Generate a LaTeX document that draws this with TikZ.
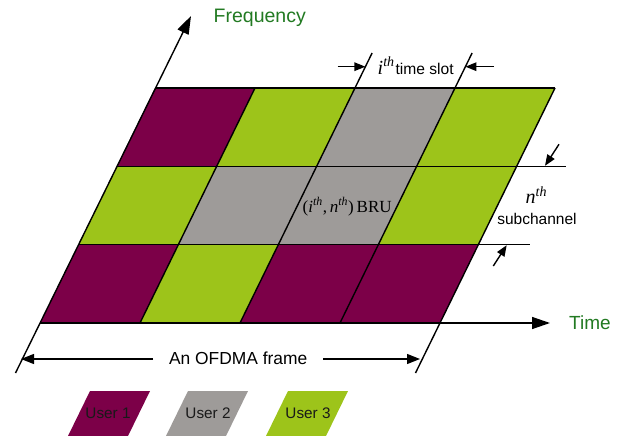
\documentclass[tikz,border=0pt]{standalone}
\usepackage{fontspec}
\setmainfont{Liberation Sans}
\newfontfamily\tnr{Liberation Serif}
\usetikzlibrary{arrows.meta}
\definecolor{upurple}{RGB}{124,0,72}
\definecolor{ugray}{RGB}{158,155,153}
\definecolor{ugreen}{RGB}{157,196,26}
\definecolor{axgreen}{RGB}{34,122,34}
\begin{document}
\begin{tikzpicture}[x=1pt, y=-1pt, line width=1.4pt,
  user1/.style={fill=upurple}, user2/.style={fill=ugray}, user3/.style={fill=ugreen},
  bigtip/.style={-{Triangle[length=18pt,width=12pt]}},
  midtip/.style={-{Triangle[length=13pt,width=10pt]}},
  smalltip/.style={-{Triangle[length=11pt,width=8.5pt]}},
  lbl/.style={inner sep=0pt, anchor=base west}]
\useasboundingbox (0,0) rectangle (622,436);
\fill[white] (0,0) rectangle (622,436);
% grid points, column then row
\coordinate (gp00) at (155,88);
\coordinate (gp10) at (255,88);
\coordinate (gp20) at (355,88);
\coordinate (gp30) at (455,88);
\coordinate (gp40) at (555,88);
\coordinate (gp01) at (116.7,166.3);
\coordinate (gp11) at (216.7,166.3);
\coordinate (gp21) at (316.7,166.3);
\coordinate (gp31) at (416.7,166.3);
\coordinate (gp41) at (516.7,166.3);
\coordinate (gp02) at (78.3,244.7);
\coordinate (gp12) at (178.3,244.7);
\coordinate (gp22) at (278.3,244.7);
\coordinate (gp32) at (378.3,244.7);
\coordinate (gp42) at (478.3,244.7);
\coordinate (gp03) at (40,323);
\coordinate (gp13) at (140,323);
\coordinate (gp23) at (240,323);
\coordinate (gp33) at (340,323);
\coordinate (gp43) at (440,323);
% free ends
\coordinate (fqlow) at (15.5,373);
\coordinate (fqtip) at (191,16);
\coordinate (tmtip) at (550,323);
\coordinate (slta) at (372.1,53);
\coordinate (sltb) at (472.1,53);
\coordinate (rlow) at (415.5,373);
\coordinate (rowa) at (566,166.3);
\coordinate (rowb) at (530,244.7);
% cells
\fill[user1] (gp00) -- (gp10) -- (gp11) -- (gp01) -- cycle;
\fill[user3] (gp10) -- (gp20) -- (gp21) -- (gp11) -- cycle;
\fill[user2] (gp20) -- (gp30) -- (gp31) -- (gp21) -- cycle;
\fill[user3] (gp30) -- (gp40) -- (gp41) -- (gp31) -- cycle;
\fill[user3] (gp01) -- (gp11) -- (gp12) -- (gp02) -- cycle;
\fill[user2] (gp11) -- (gp21) -- (gp22) -- (gp12) -- cycle;
\fill[user2] (gp21) -- (gp31) -- (gp32) -- (gp22) -- cycle;
\fill[user3] (gp31) -- (gp41) -- (gp42) -- (gp32) -- cycle;
\fill[user1] (gp02) -- (gp12) -- (gp13) -- (gp03) -- cycle;
\fill[user3] (gp12) -- (gp22) -- (gp23) -- (gp13) -- cycle;
\fill[user1] (gp22) -- (gp32) -- (gp33) -- (gp23) -- cycle;
\fill[user1] (gp32) -- (gp42) -- (gp43) -- (gp33) -- cycle;
% grid lines
\draw (gp00) -- (gp40);
\draw (gp01) -- (rowa);
\draw (gp02) -- (rowb);
\draw[bigtip] (gp03) -- (tmtip);
\draw[bigtip] (fqlow) -- (fqtip);
\draw (gp10) -- (gp13);
\draw (slta) -- (gp23);
\draw (sltb) -- (gp33);
\draw (gp40) -- (rlow);
% labels
\node[lbl, text=axgreen, font=\fontsize{19.5}{20}\selectfont] (fq) at (213,22.5) {Frequency};
\node[lbl, text=axgreen, font=\fontsize{19}{20}\selectfont] (tm) at (568.5,329.5) {Time};
\node[lbl] (slot) at (377,74.3) {{\tnr\itshape\fontsize{20}{20}\selectfont i\textsuperscript{th}}\hspace{1pt}{\fontsize{15.6}{16}\selectfont time slot}};
\node[lbl, font=\tnr\itshape\fontsize{20}{20}\selectfont] (nth) at (525,204) {n\textsuperscript{th}};
\node[inner sep=0pt, anchor=base, font=\fontsize{15.5}{16}\selectfont] (subch) at (537,224.3) {subchannel};
\node[lbl, font=\tnr\fontsize{17}{17}\selectfont] (bru) at (302,212) {(\textit{i}\textsuperscript{\textit{th}},\,\textit{n}\textsuperscript{\textit{th}})\,BRU};
\node[lbl, font=\fontsize{17.4}{18}\selectfont] (frm) at (168.3,364.3) {An OFDMA frame};
% dimension arrows
\coordinate (tsl) at (337.5,66.7);
\coordinate (tsla) at (365.4,66.7);
\coordinate (tsr) at (494,66.7);
\coordinate (tsrb) at (465.4,66.7);
\draw[smalltip] (tsl) -- (tsla);
\draw[smalltip] (tsr) -- (tsrb);
\coordinate (nup) at (559,144.3);
\coordinate (nupt) at (545,165.8);
\coordinate (ndn) at (493.3,266);
\coordinate (ndnt) at (506.7,245.2);
\draw[smalltip] (nup) -- (nupt);
\draw[smalltip] (ndn) -- (ndnt);
\coordinate (fra) at (153,359);
\coordinate (frl) at (21,359);
\coordinate (frb) at (323,359);
\coordinate (frr) at (420,359);
\draw[midtip] (fra) -- (frl);
\draw[midtip] (frb) -- (frr);
% legend
\fill[user1] (90,391) -- (150,391) -- (128,436) -- (68,436) -- cycle;
\fill[user2] (188,391) -- (248,391) -- (226,436) -- (166,436) -- cycle;
\fill[user3] (288,391) -- (348,391) -- (326,436) -- (266,436) -- cycle;
\node[inner sep=0pt, anchor=base, text=black!90, font=\fontsize{15.3}{16}\selectfont] (lg1) at (108,418.3) {User 1};
\node[inner sep=0pt, anchor=base, text=black!90, font=\fontsize{15.3}{16}\selectfont] (lg2) at (208,418.3) {User 2};
\node[inner sep=0pt, anchor=base, text=black!90, font=\fontsize{15.3}{16}\selectfont] (lg3) at (308,418.3) {User 3};
\end{tikzpicture}
\end{document}
